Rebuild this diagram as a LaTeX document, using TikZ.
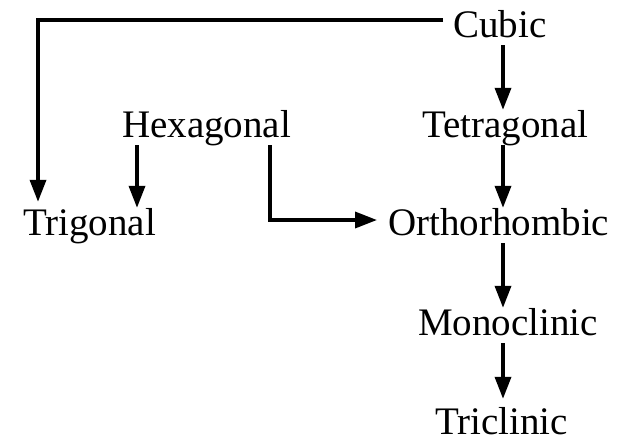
\documentclass[tikz,border=0pt]{standalone}
\usepackage{fontspec}
\setmainfont{Liberation Serif}
\usetikzlibrary{arrows.meta}
\tikzset{
  lbl/.style={inner sep=0pt, anchor=base west, text height=27pt, text depth=8pt,
    font=\fontsize{39}{47}\selectfont},
  arr/.style={line width=3.5pt, -{Triangle[length=22pt,width=16pt]}},
}
\begin{document}
\begin{tikzpicture}[x=1pt,y=-1pt]
\useasboundingbox[fill=white] (0,0) rectangle (624,440);
\node[lbl] (cubic) at (453,37) {Cubic};
\node[lbl] (hex) at (122,137) {Hexagonal};
\node[lbl] (tetra) at (422,137) {Tetragonal};
\node[lbl] (trig) at (23,235) {Trigonal};
\node[lbl] (ortho) at (388,235) {Orthorhombic};
\node[lbl] (mono) at (418,335) {Monoclinic};
\node[lbl, text depth=3pt] (tri) at (435,434) {Triclinic};
\coordinate (col) at (503,0);
\coordinate (hcol) at (137,0);
\coordinate (hcol2) at (270,0);
\draw[arr] ([shift={(-10,-17)}]cubic.base west) -| ([shift={(15,-6)}]trig.north west);
\draw[arr] (cubic.south -| col) -- (tetra.north -| col);
\draw[arr] (tetra.south -| col) -- (ortho.north -| col);
\draw[arr] (ortho.south -| col) -- (mono.north -| col);
\draw[arr] (mono.south -| col) -- ([yshift=8pt]tri.north -| col);
\draw[arr] (hex.south -| hcol) -- (trig.north -| hcol);
\draw[arr] (hex.south -| hcol2) |- ([shift={(-11,-15)}]ortho.base west);
\end{tikzpicture}
\end{document}
